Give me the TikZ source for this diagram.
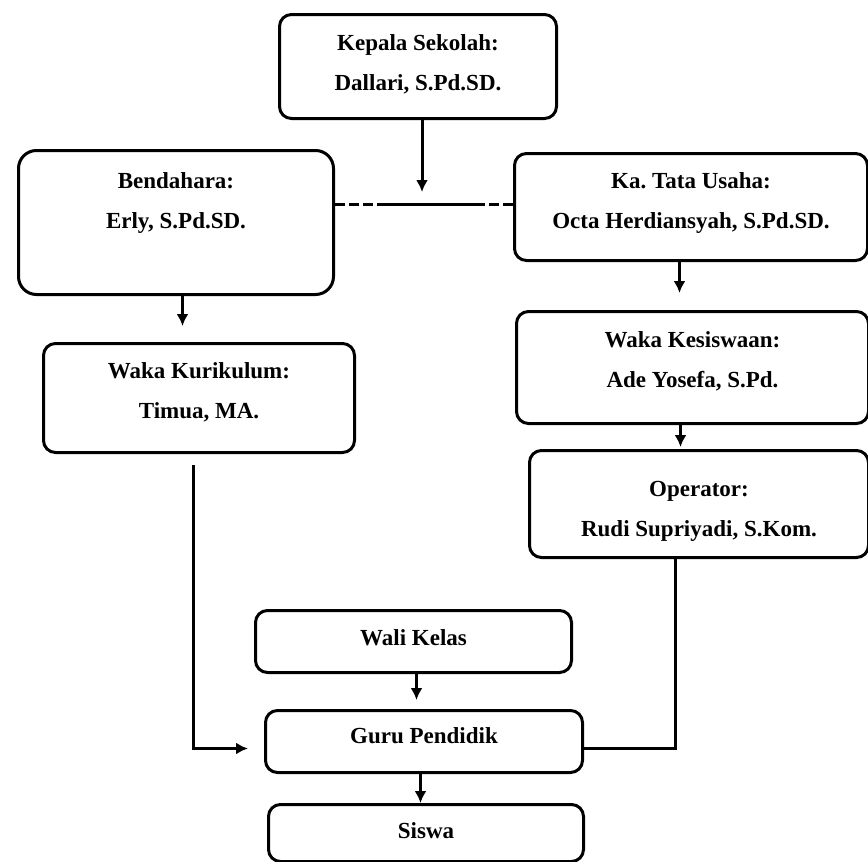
\documentclass[tikz,border=0pt]{standalone}
\usepackage{fontspec}
\setmainfont{Liberation Serif}
\usetikzlibrary{arrows.meta}

\begin{document}
\begin{tikzpicture}[x=1pt,y=-1pt,>={Latex[length=12pt,width=12pt]},line width=3pt,
    box/.style={draw=black,rounded corners=12pt,anchor=north west,inner sep=0pt,align=center,
                font=\frenchspacing\bfseries\fontsize{23}{40}\selectfont}]
                \useasboundingbox (0,0) rectangle (868,862);
                \node[box,minimum width=277pt,text height=76pt,text depth=28pt](kepala)at(278, 13){Kepala Sekolah:\\Dallari, S.Pd.SD.};
                \node[box,rounded corners=18pt,minimum width=315pt,text height=78pt,text depth=66pt](bendahara)at(17, 149){Bendahara:\\Erly, S.Pd.SD.};
                \node[box,minimum width=353pt,text height=75pt,text depth=32pt](tatausaha)at(513, 152){Ka. Tata Usaha:\\Octa Herdiansyah, S.Pd.SD.};
                \node[box,minimum width=352pt,text height=76pt,text depth=36pt](kesiswaan)at(515, 310){Waka Kesiswaan:\\Ade Yosefa, S.Pd.};
                \node[box,minimum width=339pt,text height=86pt,text depth=21pt](operator)at(528, 449){Operator:\\Rudi Supriyadi, S.Kom.};
                \node[box,minimum width=311pt,text height=75pt,text depth=34pt](kurikulum)at(42, 342){Waka Kurikulum:\\Timua, MA.};
                \node[box,minimum width=316pt,text height=35pt,text depth=27pt](walikelas)at(254, 609){Wali Kelas};
                \node[box,minimum width=317pt,text height=33pt,text depth=29pt](guru)at(264, 709){Guru Pendidik};
                \node[box,minimum width=315pt,text height=34pt,text depth=23pt](siswa)at(267, 803){Siswa};
                \coordinate(junction)at(422, 204);
                % garis dari kepala sekolah
                \draw[->,shorten >=12pt](junction |- kepala.south) -- (junction);
                \draw[dash pattern=on 10pt off 4pt](bendahara.east |- junction) -- (tatausaha.west |- junction);
                \draw([xshift=-42pt]junction) -- ([xshift=55pt]junction);
                % kiri
                \draw[->,shorten >=16pt]([xshift=6.5pt]bendahara.south) -- ([xshift=6.5pt]bendahara.south |- kurikulum.north);
                \draw[->,shorten <=11pt,shorten >=16pt]([xshift=-5.5pt]kurikulum.south) |- ([yshift=-7pt]guru.west);
                % kanan
                \draw[->,shorten >=17pt]([xshift=-11.5pt]tatausaha.south) -- ([xshift=-11.5pt]tatausaha.south |- kesiswaan.north);
                \draw[->,shorten >=2pt]([xshift=-12pt]kesiswaan.south) -- ([xshift=-12pt]kesiswaan.south |- operator.north);
                \draw([xshift=-23.5pt]operator.south) |- ([yshift=-7pt]guru.east);
                % bawah
                \draw[->,shorten >=9pt]([xshift=3pt]walikelas.south) -- ([xshift=3pt]walikelas.south |- guru.north);
                \draw[->]([xshift=-3.5pt]guru.south) -- ([xshift=-3.5pt]guru.south |- siswa.north);
\end{tikzpicture}
\end{document}
